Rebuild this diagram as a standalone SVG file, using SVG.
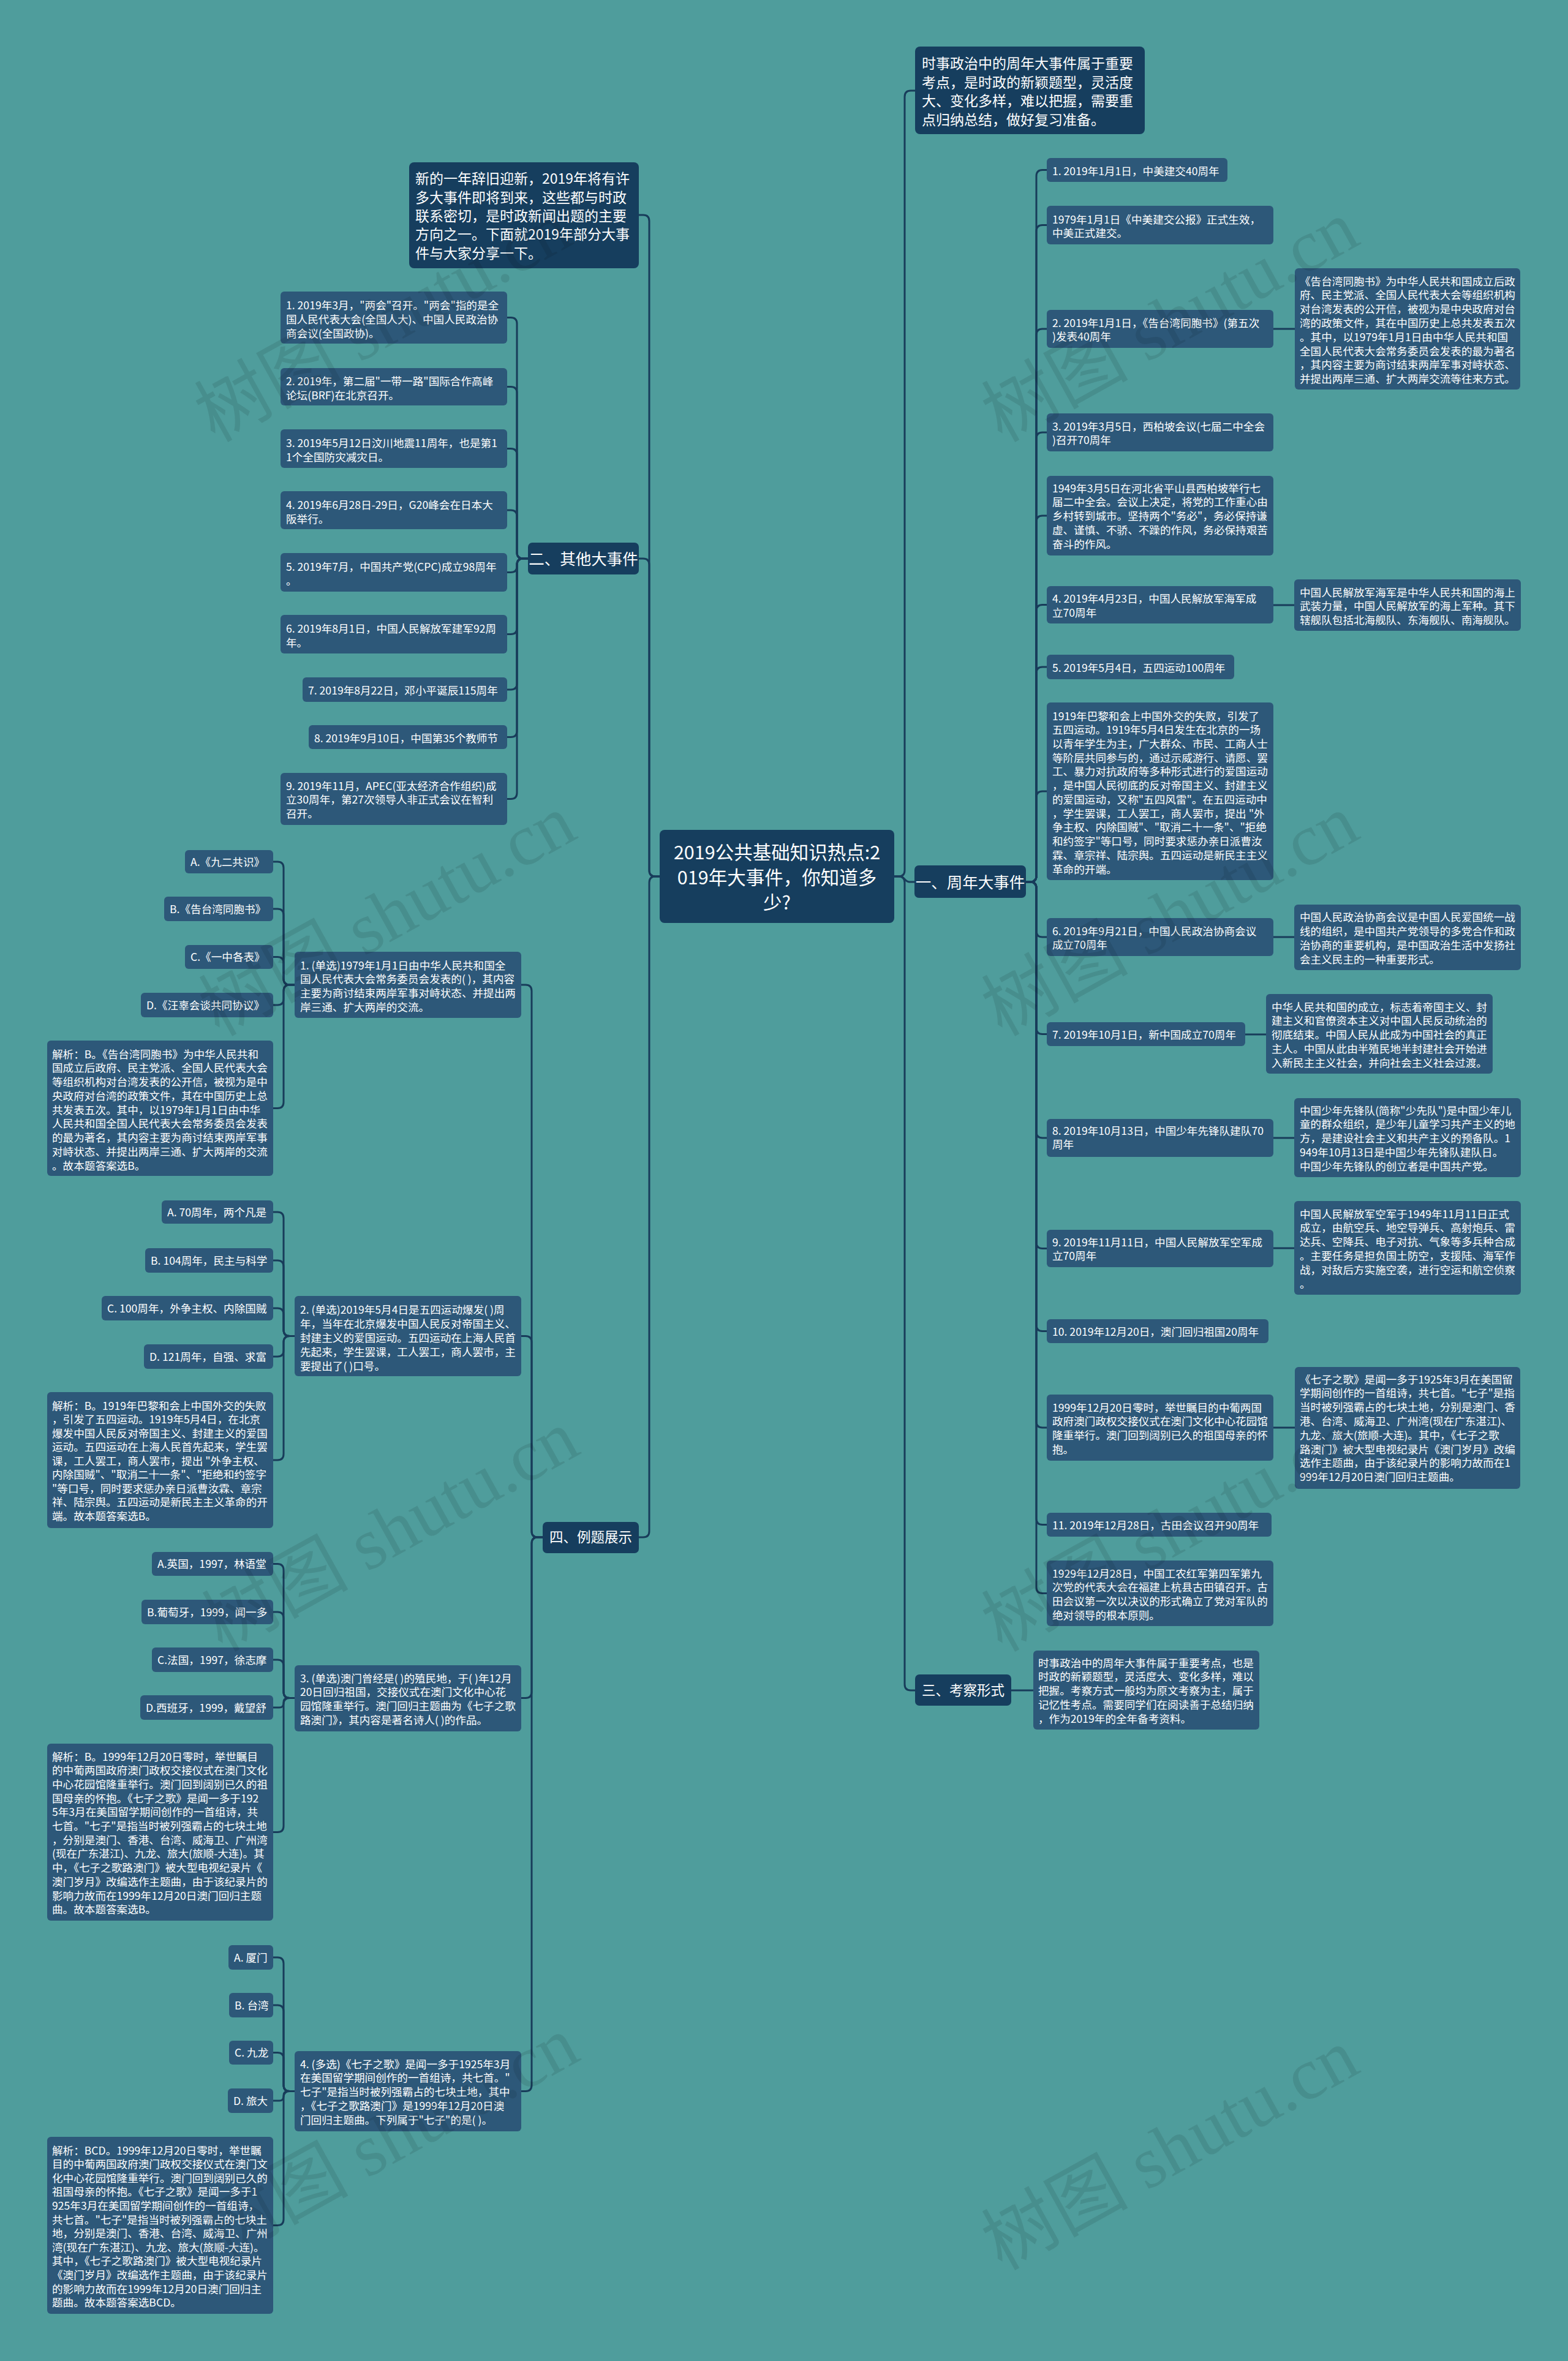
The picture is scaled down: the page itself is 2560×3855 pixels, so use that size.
<svg xmlns="http://www.w3.org/2000/svg" width="2560" height="3855" viewBox="0 0 2560 3855">
<style>
.d{fill:#163e5e}
.l{fill:#2d5879}
text{font-family:'Noto Sans CJK SC','Noto Sans',sans-serif;fill:#ffffff}
.s{font-size:17.6px}
.i{font-size:23px}
.h1{font-size:25.5px}
.h2{font-size:22.5px}
.r{font-size:30.5px}
.c path{fill:none;stroke:#183c5a;stroke-width:3}
.w{font-family:'Liberation Serif','Noto Sans CJK SC',serif;font-size:120px;fill:#000;fill-opacity:0.09}
</style>
<rect width="2560" height="3855" fill="#4f9d9c"/>
<g class="c" id="connectors">
<path d="M1460 1431 H1467 Q1477 1431 1477 1421 V158 Q1477 148 1487 148 H1494"/>
<path d="M1460 1431 H1469 C1477 1431 1477 1440 1485 1440 H1493"/>
<path d="M1460 1431 H1467 Q1477 1431 1477 1441 V2750 Q1477 2760 1487 2760 H1494"/>
<path d="M1077 1431 H1070 Q1060 1431 1060 1421 V361 Q1060 351 1050 351 H1043"/>
<path d="M1077 1431 H1070 Q1060 1431 1060 1421 V922 Q1060 912 1050 912 H1043"/>
<path d="M1077 1431 H1070 Q1060 1431 1060 1441 V2500 Q1060 2510 1050 2510 H1043"/>
<path d="M1675 1440 H1682 Q1692 1440 1692 1430 V287.5 Q1692 277.5 1702 277.5 H1709"/>
<path d="M1675 1440 H1682 Q1692 1440 1692 1430 V377.5 Q1692 367.5 1702 367.5 H1709"/>
<path d="M1675 1440 H1682 Q1692 1440 1692 1430 V547 Q1692 537 1702 537 H1709"/>
<path d="M1675 1440 H1682 Q1692 1440 1692 1430 V716 Q1692 706 1702 706 H1709"/>
<path d="M1675 1440 H1682 Q1692 1440 1692 1430 V852 Q1692 842 1702 842 H1709"/>
<path d="M1675 1440 H1682 Q1692 1440 1692 1430 V997.5 Q1692 987.5 1702 987.5 H1709"/>
<path d="M1675 1440 H1682 Q1692 1440 1692 1430 V1099 Q1692 1089 1702 1089 H1709"/>
<path d="M1675 1440 H1682 Q1692 1440 1692 1430 V1302 Q1692 1292 1702 1292 H1709"/>
<path d="M1675 1440 H1682 Q1692 1440 1692 1450 V1520 Q1692 1530 1702 1530 H1709"/>
<path d="M1675 1440 H1682 Q1692 1440 1692 1450 V1678.5 Q1692 1688.5 1702 1688.5 H1709"/>
<path d="M1675 1440 H1682 Q1692 1440 1692 1450 V1848 Q1692 1858 1702 1858 H1709"/>
<path d="M1675 1440 H1682 Q1692 1440 1692 1450 V2028.5 Q1692 2038.5 1702 2038.5 H1709"/>
<path d="M1675 1440 H1682 Q1692 1440 1692 1450 V2163.5 Q1692 2173.5 1702 2173.5 H1709"/>
<path d="M1675 1440 H1682 Q1692 1440 1692 1450 V2321 Q1692 2331 1702 2331 H1709"/>
<path d="M1675 1440 H1682 Q1692 1440 1692 1450 V2479.5 Q1692 2489.5 1702 2489.5 H1709"/>
<path d="M1675 1440 H1682 Q1692 1440 1692 1450 V2591.5 Q1692 2601.5 1702 2601.5 H1709"/>
<path d="M2079 537 H2114"/>
<path d="M2079 988 H2113"/>
<path d="M2079 1530 H2113"/>
<path d="M2033 1689 H2067"/>
<path d="M2079 1858 H2113"/>
<path d="M2079 2038 H2113"/>
<path d="M2079 2331 H2114"/>
<path d="M1651 2760 H1687"/>
<path d="M862 912 H854 Q844 912 844 902 V528.5 Q844 518.5 834 518.5 H828"/>
<path d="M862 912 H854 Q844 912 844 902 V641.5 Q844 631.5 834 631.5 H828"/>
<path d="M862 912 H854 Q844 912 844 902 V742.5 Q844 732.5 834 732.5 H828"/>
<path d="M862 912 H854 Q844 912 844 902 V843 Q844 833 834 833 H828"/>
<path d="M862 912 H854 Q844 912 844 922 V924.5 Q844 934.5 834 934.5 H828"/>
<path d="M862 912 H854 Q844 912 844 922 V1025.5 Q844 1035.5 834 1035.5 H828"/>
<path d="M862 912 H854 Q844 912 844 922 V1116 Q844 1126 834 1126 H828"/>
<path d="M862 912 H854 Q844 912 844 922 V1193.5 Q844 1203.5 834 1203.5 H828"/>
<path d="M862 912 H854 Q844 912 844 922 V1294.5 Q844 1304.5 834 1304.5 H828"/>
<path d="M886 2510 H878 Q868 2510 868 2500 V1618 Q868 1608 858 1608 H851"/>
<path d="M886 2510 H878 Q868 2510 868 2500 V2191.5 Q868 2181.5 858 2181.5 H851"/>
<path d="M886 2510 H878 Q868 2510 868 2520 V2762.5 Q868 2772.5 858 2772.5 H851"/>
<path d="M886 2510 H878 Q868 2510 868 2520 V3404.5 Q868 3414.5 858 3414.5 H851"/>
<path d="M481 1608 H473 Q463 1608 463 1598 V1417 Q463 1407 453 1407 H446"/>
<path d="M481 1608 H473 Q463 1608 463 1598 V1494 Q463 1484 453 1484 H446"/>
<path d="M481 1608 H473 Q463 1608 463 1598 V1572.5 Q463 1562.5 453 1562.5 H446"/>
<path d="M481 1608 H473 Q463 1608 463 1618 V1631 Q463 1641 453 1641 H446"/>
<path d="M481 1608 H473 Q463 1608 463 1618 V1799.5 Q463 1809.5 453 1809.5 H446"/>
<path d="M481 2181.5 H473 Q463 2181.5 463 2171.5 V1989 Q463 1979 453 1979 H446"/>
<path d="M481 2181.5 H473 Q463 2181.5 463 2171.5 V2068 Q463 2058 453 2058 H446"/>
<path d="M481 2181.5 H473 Q463 2181.5 463 2171.5 V2146 Q463 2136 453 2136 H446"/>
<path d="M481 2181.5 H473 Q463 2181.5 463 2191.5 V2205 Q463 2215 453 2215 H446"/>
<path d="M481 2181.5 H473 Q463 2181.5 463 2191.5 V2374 Q463 2384 453 2384 H446"/>
<path d="M481 2772.5 H473 Q463 2772.5 463 2762.5 V2563.5 Q463 2553.5 453 2553.5 H446"/>
<path d="M481 2772.5 H473 Q463 2772.5 463 2762.5 V2642 Q463 2632 453 2632 H446"/>
<path d="M481 2772.5 H473 Q463 2772.5 463 2762.5 V2720 Q463 2710 453 2710 H446"/>
<path d="M481 2772.5 H470 Q463 2772.5 463 2779.5 V2781 Q463 2788 456 2788 H446"/>
<path d="M481 2772.5 H473 Q463 2772.5 463 2782.5 V2981.5 Q463 2991.5 453 2991.5 H446"/>
<path d="M481 3414.5 H473 Q463 3414.5 463 3404.5 V3206 Q463 3196 453 3196 H446"/>
<path d="M481 3414.5 H473 Q463 3414.5 463 3404.5 V3284 Q463 3274 453 3274 H446"/>
<path d="M481 3414.5 H473 Q463 3414.5 463 3404.5 V3361.5 Q463 3351.5 453 3351.5 H446"/>
<path d="M481 3414.5 H470 Q463 3414.5 463 3421.5 V3423 Q463 3430 456 3430 H446"/>
<path d="M481 3414.5 H473 Q463 3414.5 463 3424.5 V3623.5 Q463 3633.5 453 3633.5 H446"/>
</g>

<g id="root"><rect class="d" x="1077" y="1355" width="383" height="152" rx="8"/>
<text class="r" text-anchor="middle"><tspan x="1268.5" y="1403">2019公共基础知识热点:2</tspan><tspan x="1268.5" y="1444">019年大事件，你知道多</tspan><tspan x="1268.5" y="1485">少?</tspan></text></g>

<g id="intro-right"><rect class="d" x="1494" y="76" width="375" height="143" rx="8"/>
<text class="i"><tspan x="1505" y="111.5">时事政治中的周年大事件属于重要</tspan><tspan x="1505" y="142.5">考点，是时政的新颖题型，灵活度</tspan><tspan x="1505" y="173">大、变化多样，难以把握，需要重</tspan><tspan x="1505" y="203.5">点归纳总结，做好复习准备。</tspan></text></g>

<g id="intro-left"><rect class="d" x="668" y="265" width="375" height="173" rx="8"/>
<text class="i"><tspan x="678" y="299.5">新的一年辞旧迎新，2019年将有许</tspan><tspan x="678" y="330.5">多大事件即将到来，这些都与时政</tspan><tspan x="678" y="360.5">联系密切，是时政新闻出题的主要</tspan><tspan x="678" y="390.5">方向之一。下面就2019年部分大事</tspan><tspan x="678" y="421.5">件与大家分享一下。</tspan></text></g>

<g id="b1"><rect class="d" x="1493" y="1413" width="182" height="53" rx="7"/><text class="h1" x="1584" y="1449.5" text-anchor="middle">一、周年大事件</text></g>
<g id="b2"><rect class="d" x="862" y="886" width="181" height="52" rx="7"/><text class="h1" x="952.5" y="921.5" text-anchor="middle">二、其他大事件</text></g>
<g id="b3"><rect class="d" x="1494" y="2734" width="157" height="51" rx="7"/><text class="h2" x="1572.5" y="2768" text-anchor="middle">三、考察形式</text></g>
<g id="b4"><rect class="d" x="886" y="2485" width="157" height="51" rx="7"/><text class="h2" x="964.5" y="2518" text-anchor="middle">四、例题展示</text></g>

<g id="n1"><rect class="l" x="1709" y="258" width="295" height="39" rx="6"/><text class="s" x="1718" y="285.5">1. 2019年1月1日，中美建交40周年</text></g>
<g id="n1a"><rect class="l" x="1709" y="336" width="370" height="63" rx="6"/><text class="s"><tspan x="1718" y="364.5">1979年1月1日《中美建交公报》正式生效，</tspan><tspan x="1718" dy="22.8">中美正式建交。</tspan></text></g>
<g id="n2"><rect class="l" x="1709" y="506" width="370" height="62" rx="6"/><text class="s"><tspan x="1718" y="533.5">2. 2019年1月1日，《告台湾同胞书》(第五次</tspan><tspan x="1718" dy="22.8">)发表40周年</tspan></text></g>
<g id="n2a"><rect class="l" x="2114" y="438" width="368" height="198" rx="6"/><text class="s"><tspan x="2122" y="465.5">《告台湾同胞书》为中华人民共和国成立后政</tspan><tspan x="2122" dy="22.8">府、民主党派、全国人民代表大会等组织机构</tspan><tspan x="2122" dy="22.8">对台湾发表的公开信，被视为是中央政府对台</tspan><tspan x="2122" dy="22.8">湾的政策文件，其在中国历史上总共发表五次</tspan><tspan x="2122" dy="22.8">。其中，以1979年1月1日由中华人民共和国</tspan><tspan x="2122" dy="22.8">全国人民代表大会常务委员会发表的最为著名</tspan><tspan x="2122" dy="22.8">，其内容主要为商讨结束两岸军事对峙状态、</tspan><tspan x="2122" dy="22.8">并提出两岸三通、扩大两岸交流等往来方式。</tspan></text></g>
<g id="n3"><rect class="l" x="1709" y="675" width="370" height="62" rx="6"/><text class="s"><tspan x="1718" y="702.5">3. 2019年3月5日，西柏坡会议(七届二中全会</tspan><tspan x="1718" dy="22.8">)召开70周年</tspan></text></g>
<g id="n3a"><rect class="l" x="1709" y="777" width="370" height="130" rx="6"/><text class="s"><tspan x="1718" y="803.5">1949年3月5日在河北省平山县西柏坡举行七</tspan><tspan x="1718" dy="22.8">届二中全会。会议上决定，将党的工作重心由</tspan><tspan x="1718" dy="22.8">乡村转到城市。坚持两个"务必"，务必保持谦</tspan><tspan x="1718" dy="22.8">虚、谨慎、不骄、不躁的作风，务必保持艰苦</tspan><tspan x="1718" dy="22.8">奋斗的作风。</tspan></text></g>
<g id="n4"><rect class="l" x="1709" y="957" width="370" height="61" rx="6"/><text class="s"><tspan x="1718" y="984">4. 2019年4月23日，中国人民解放军海军成</tspan><tspan x="1718" dy="22.8">立70周年</tspan></text></g>
<g id="n4a"><rect class="l" x="2113" y="946" width="370" height="84" rx="6"/><text class="s"><tspan x="2122" y="973.5">中国人民解放军海军是中华人民共和国的海上</tspan><tspan x="2122" dy="22.8">武装力量，中国人民解放军的海上军种。其下</tspan><tspan x="2122" dy="22.8">辖舰队包括北海舰队、东海舰队、南海舰队。</tspan></text></g>
<g id="n5"><rect class="l" x="1709" y="1069" width="306" height="40" rx="6"/><text class="s" x="1718" y="1096.5">5. 2019年5月4日，五四运动100周年</text></g>
<g id="n5a"><rect class="l" x="1709" y="1147" width="370" height="290" rx="6"/><text class="s"><tspan x="1718" y="1175.5">1919年巴黎和会上中国外交的失败，引发了</tspan><tspan x="1718" dy="22.73">五四运动。1919年5月4日发生在北京的一场</tspan><tspan x="1718" dy="22.73">以青年学生为主，广大群众、市民、工商人士</tspan><tspan x="1718" dy="22.73">等阶层共同参与的，通过示威游行、请愿、罢</tspan><tspan x="1718" dy="22.73">工、暴力对抗政府等多种形式进行的爱国运动</tspan><tspan x="1718" dy="22.73">，是中国人民彻底的反对帝国主义、封建主义</tspan><tspan x="1718" dy="22.73">的爱国运动，又称"五四风雷"。在五四运动中</tspan><tspan x="1718" dy="22.73">，学生罢课，工人罢工，商人罢市，提出 "外</tspan><tspan x="1718" dy="22.73">争主权、内除国贼"、"取消二十一条"、"拒绝</tspan><tspan x="1718" dy="22.73">和约签字"等口号，同时要求惩办亲日派曹汝</tspan><tspan x="1718" dy="22.73">霖、章宗祥、陆宗舆。五四运动是新民主主义</tspan><tspan x="1718" dy="22.73">革命的开端。</tspan></text></g>
<g id="n6"><rect class="l" x="1709" y="1499" width="370" height="62" rx="6"/><text class="s"><tspan x="1718" y="1526.5">6. 2019年9月21日，中国人民政治协商会议</tspan><tspan x="1718" dy="22.8">成立70周年</tspan></text></g>
<g id="n6a"><rect class="l" x="2113" y="1477" width="370" height="107" rx="6"/><text class="s"><tspan x="2122" y="1503.5">中国人民政治协商会议是中国人民爱国统一战</tspan><tspan x="2122" dy="23">线的组织，是中国共产党领导的多党合作和政</tspan><tspan x="2122" dy="23">治协商的重要机构，是中国政治生活中发扬社</tspan><tspan x="2122" dy="23">会主义民主的一种重要形式。</tspan></text></g>
<g id="n7"><rect class="l" x="1709" y="1669" width="324" height="39" rx="6"/><text class="s" x="1718" y="1695.5">7. 2019年10月1日，新中国成立70周年</text></g>
<g id="n7a"><rect class="l" x="2067" y="1623" width="370" height="130" rx="6"/><text class="s"><tspan x="2076" y="1650.5">中华人民共和国的成立，标志着帝国主义、封</tspan><tspan x="2076" dy="22.8">建主义和官僚资本主义对中国人民反动统治的</tspan><tspan x="2076" dy="22.8">彻底结束。中国人民从此成为中国社会的真正</tspan><tspan x="2076" dy="22.8">主人。中国从此由半殖民地半封建社会开始进</tspan><tspan x="2076" dy="22.8">入新民主主义社会，并向社会主义社会过渡。</tspan></text></g>
<g id="n8"><rect class="l" x="1709" y="1827" width="370" height="62" rx="6"/><text class="s"><tspan x="1718" y="1852.5">8. 2019年10月13日，中国少年先锋队建队70</tspan><tspan x="1718" dy="22.8">周年</tspan></text></g>
<g id="n8a"><rect class="l" x="2113" y="1793" width="370" height="129" rx="6"/><text class="s"><tspan x="2122" y="1819.5">中国少年先锋队(简称"少先队")是中国少年儿</tspan><tspan x="2122" dy="22.8">童的群众组织，是少年儿童学习共产主义的地</tspan><tspan x="2122" dy="22.8">方，是建设社会主义和共产主义的预备队。1</tspan><tspan x="2122" dy="22.8">949年10月13日是中国少年先锋队建队日。</tspan><tspan x="2122" dy="22.8">中国少年先锋队的创立者是中国共产党。</tspan></text></g>
<g id="n9"><rect class="l" x="1709" y="2008" width="370" height="61" rx="6"/><text class="s"><tspan x="1718" y="2034.5">9. 2019年11月11日，中国人民解放军空军成</tspan><tspan x="1718" dy="22.8">立70周年</tspan></text></g>
<g id="n9a"><rect class="l" x="2113" y="1961" width="370" height="153" rx="6"/><text class="s"><tspan x="2122" y="1988.5">中国人民解放军空军于1949年11月11日正式</tspan><tspan x="2122" dy="22.8">成立，由航空兵、地空导弹兵、高射炮兵、雷</tspan><tspan x="2122" dy="22.8">达兵、空降兵、电子对抗、气象等多兵种合成</tspan><tspan x="2122" dy="22.8">。主要任务是担负国土防空，支援陆、海军作</tspan><tspan x="2122" dy="22.8">战，对敌后方实施空袭，进行空运和航空侦察</tspan><tspan x="2122" dy="22.8">。</tspan></text></g>
<g id="n10"><rect class="l" x="1709" y="2154" width="362" height="39" rx="6"/><text class="s" x="1718" y="2180.5">10. 2019年12月20日，澳门回归祖国20周年</text></g>
<g id="n10a"><rect class="l" x="1709" y="2277" width="370" height="108" rx="6"/><text class="s"><tspan x="1718" y="2304.5">1999年12月20日零时，举世瞩目的中葡两国</tspan><tspan x="1718" dy="22.7">政府澳门政权交接仪式在澳门文化中心花园馆</tspan><tspan x="1718" dy="22.7">隆重举行。澳门回到阔别已久的祖国母亲的怀</tspan><tspan x="1718" dy="22.7">抱。</tspan></text></g>
<g id="n10b"><rect class="l" x="2114" y="2232" width="368" height="199" rx="6"/><text class="s"><tspan x="2122" y="2258.5">《七子之歌》是闻一多于1925年3月在美国留</tspan><tspan x="2122" dy="22.8">学期间创作的一首组诗，共七首。"七子"是指</tspan><tspan x="2122" dy="22.8">当时被列强霸占的七块土地，分别是澳门、香</tspan><tspan x="2122" dy="22.8">港、台湾、威海卫、广州湾(现在广东湛江)、</tspan><tspan x="2122" dy="22.8">九龙、旅大(旅顺-大连)。其中，《七子之歌</tspan><tspan x="2122" dy="22.8">路澳门》被大型电视纪录片《澳门岁月》改编</tspan><tspan x="2122" dy="22.8">选作主题曲，由于该纪录片的影响力故而在1</tspan><tspan x="2122" dy="22.8">999年12月20日澳门回归主题曲。</tspan></text></g>
<g id="n11"><rect class="l" x="1709" y="2470" width="367" height="39" rx="6"/><text class="s" x="1718" y="2496.5">11. 2019年12月28日，古田会议召开90周年</text></g>
<g id="n11a"><rect class="l" x="1709" y="2548" width="370" height="107" rx="6"/><text class="s"><tspan x="1718" y="2575.5">1929年12月28日，中国工农红军第四军第九</tspan><tspan x="1718" dy="22.7">次党的代表大会在福建上杭县古田镇召开。古</tspan><tspan x="1718" dy="22.7">田会议第一次以决议的形式确立了党对军队的</tspan><tspan x="1718" dy="22.7">绝对领导的根本原则。</tspan></text></g>
<g id="n3x"><rect class="l" x="1687" y="2695" width="369" height="129" rx="6"/><text class="s"><tspan x="1695" y="2721.5">时事政治中的周年大事件属于重要考点，也是</tspan><tspan x="1695" dy="22.8">时政的新颖题型，灵活度大、变化多样，难以</tspan><tspan x="1695" dy="22.8">把握。考察方式一般均为原文考察为主，属于</tspan><tspan x="1695" dy="22.8">记忆性考点。需要同学们在阅读善于总结归纳</tspan><tspan x="1695" dy="22.8">，作为2019年的全年备考资料。</tspan></text></g>

<g id="i1"><rect class="l" x="458" y="476" width="370" height="85" rx="6"/><text class="s"><tspan x="467" y="504.5">1. 2019年3月，"两会"召开。"两会"指的是全</tspan><tspan x="467" dy="23">国人民代表大会(全国人大)、中国人民政治协</tspan><tspan x="467" dy="23">商会议(全国政协)。</tspan></text></g>
<g id="i2"><rect class="l" x="458" y="601" width="370" height="61" rx="6"/><text class="s"><tspan x="467" y="628.5">2. 2019年，第二届"一带一路"国际合作高峰</tspan><tspan x="467" dy="23">论坛(BRF)在北京召开。</tspan></text></g>
<g id="i3"><rect class="l" x="458" y="701" width="370" height="63" rx="6"/><text class="s"><tspan x="467" y="729.5">3. 2019年5月12日汶川地震11周年，也是第1</tspan><tspan x="467" dy="23">1个全国防灾减灾日。</tspan></text></g>
<g id="i4"><rect class="l" x="458" y="802" width="370" height="62" rx="6"/><text class="s"><tspan x="467" y="830.5">4. 2019年6月28日-29日，G20峰会在日本大</tspan><tspan x="467" dy="23">阪举行。</tspan></text></g>
<g id="i5"><rect class="l" x="458" y="903" width="370" height="63" rx="6"/><text class="s"><tspan x="467" y="931.5">5. 2019年7月，中国共产党(CPC)成立98周年</tspan><tspan x="467" dy="23">。</tspan></text></g>
<g id="i6"><rect class="l" x="458" y="1004" width="370" height="63" rx="6"/><text class="s"><tspan x="467" y="1032.5">6. 2019年8月1日，中国人民解放军建军92周</tspan><tspan x="467" dy="23">年。</tspan></text></g>
<g id="i7"><rect class="l" x="494" y="1106" width="334" height="40" rx="6"/><text class="s" x="503" y="1133.5">7. 2019年8月22日，邓小平诞辰115周年</text></g>
<g id="i8"><rect class="l" x="504" y="1184" width="324" height="39" rx="6"/><text class="s" x="513" y="1211.5">8. 2019年9月10日，中国第35个教师节</text></g>
<g id="i9"><rect class="l" x="458" y="1262" width="370" height="85" rx="6"/><text class="s"><tspan x="467" y="1289.5">9. 2019年11月，APEC(亚太经济合作组织)成</tspan><tspan x="467" dy="22.8">立30周年，第27次领导人非正式会议在智利</tspan><tspan x="467" dy="22.8">召开。</tspan></text></g>

<g id="q1"><rect class="l" x="481" y="1554" width="370" height="108" rx="6"/><text class="s"><tspan x="490" y="1582.5">1. (单选)1979年1月1日由中华人民共和国全</tspan><tspan x="490" dy="22.7">国人民代表大会常务委员会发表的( )，其内容</tspan><tspan x="490" dy="22.7">主要为商讨结束两岸军事对峙状态、并提出两</tspan><tspan x="490" dy="22.7">岸三通、扩大两岸的交流。</tspan></text></g>
<g id="q1a"><rect class="l" x="302" y="1388" width="144" height="38" rx="6"/><text class="s" x="311" y="1413.5">A.《九二共识》</text></g>
<g id="q1b"><rect class="l" x="268" y="1464" width="178" height="40" rx="6"/><text class="s" x="277" y="1490.5">B.《告台湾同胞书》</text></g>
<g id="q1c"><rect class="l" x="302" y="1543" width="144" height="39" rx="6"/><text class="s" x="311" y="1569">C.《一中各表》</text></g>
<g id="q1d"><rect class="l" x="230" y="1621" width="216" height="40" rx="6"/><text class="s" x="239" y="1647.5">D.《汪辜会谈共同协议》</text></g>
<g id="q1e"><rect class="l" x="77" y="1699" width="369" height="221" rx="6"/><text class="s"><tspan x="85" y="1727.5">解析：B。《告台湾同胞书》为中华人民共和</tspan><tspan x="85" dy="22.75">国成立后政府、民主党派、全国人民代表大会</tspan><tspan x="85" dy="22.75">等组织机构对台湾发表的公开信，被视为是中</tspan><tspan x="85" dy="22.75">央政府对台湾的政策文件，其在中国历史上总</tspan><tspan x="85" dy="22.75">共发表五次。其中，以1979年1月1日由中华</tspan><tspan x="85" dy="22.75">人民共和国全国人民代表大会常务委员会发表</tspan><tspan x="85" dy="22.75">的最为著名，其内容主要为商讨结束两岸军事</tspan><tspan x="85" dy="22.75">对峙状态、并提出两岸三通、扩大两岸的交流</tspan><tspan x="85" dy="22.75">。故本题答案选B。</tspan></text></g>

<g id="q2"><rect class="l" x="481" y="2116" width="370" height="131" rx="6"/><text class="s"><tspan x="490" y="2144.5">2. (单选)2019年5月4日是五四运动爆发( )周</tspan><tspan x="490" dy="23">年，当年在北京爆发中国人民反对帝国主义、</tspan><tspan x="490" dy="23">封建主义的爱国运动。五四运动在上海人民首</tspan><tspan x="490" dy="23">先起来，学生罢课，工人罢工，商人罢市，主</tspan><tspan x="490" dy="23">要提出了( )口号。</tspan></text></g>
<g id="q2a"><rect class="l" x="264" y="1960" width="182" height="38" rx="6"/><text class="s" x="273" y="1985.5">A. 70周年，两个凡是</text></g>
<g id="q2b"><rect class="l" x="237" y="2038" width="209" height="40" rx="6"/><text class="s" x="246" y="2064.5">B. 104周年，民主与科学</text></g>
<g id="q2c"><rect class="l" x="166" y="2116" width="280" height="40" rx="6"/><text class="s" x="175" y="2142.5">C. 100周年，外争主权、内除国贼</text></g>
<g id="q2d"><rect class="l" x="235" y="2195" width="211" height="40" rx="6"/><text class="s" x="244" y="2221.5">D. 121周年，自强、求富</text></g>
<g id="q2e"><rect class="l" x="77" y="2273" width="369" height="222" rx="6"/><text class="s"><tspan x="85" y="2301.5">解析：B。1919年巴黎和会上中国外交的失败</tspan><tspan x="85" dy="22.5">，引发了五四运动。1919年5月4日，在北京</tspan><tspan x="85" dy="22.5">爆发中国人民反对帝国主义、封建主义的爱国</tspan><tspan x="85" dy="22.5">运动。五四运动在上海人民首先起来，学生罢</tspan><tspan x="85" dy="22.5">课，工人罢工，商人罢市，提出 "外争主权、</tspan><tspan x="85" dy="22.5">内除国贼"、"取消二十一条"、"拒绝和约签字</tspan><tspan x="85" dy="22.5">"等口号，同时要求惩办亲日派曹汝霖、章宗</tspan><tspan x="85" dy="22.5">祥、陆宗舆。五四运动是新民主主义革命的开</tspan><tspan x="85" dy="22.5">端。故本题答案选B。</tspan></text></g>

<g id="q3"><rect class="l" x="481" y="2719" width="370" height="108" rx="6"/><text class="s"><tspan x="490" y="2746.5">3. (单选)澳门曾经是( )的殖民地，于( )年12月</tspan><tspan x="490" dy="22.7">20日回归祖国，交接仪式在澳门文化中心花</tspan><tspan x="490" dy="22.7">园馆隆重举行。澳门回归主题曲为《七子之歌</tspan><tspan x="490" dy="22.7">路澳门》，其内容是著名诗人( )的作品。</tspan></text></g>
<g id="q3a"><rect class="l" x="248" y="2534" width="198" height="39" rx="6"/><text class="s" x="257" y="2560">A.英国，1997，林语堂</text></g>
<g id="q3b"><rect class="l" x="231" y="2612" width="215" height="40" rx="6"/><text class="s" x="240" y="2638.5">B.葡萄牙，1999，闻一多</text></g>
<g id="q3c"><rect class="l" x="248" y="2690" width="198" height="40" rx="6"/><text class="s" x="257" y="2716.5">C.法国，1997，徐志摩</text></g>
<g id="q3d"><rect class="l" x="229" y="2768" width="217" height="40" rx="6"/><text class="s" x="238" y="2794.5">D.西班牙，1999，戴望舒</text></g>
<g id="q3e"><rect class="l" x="77" y="2847" width="369" height="289" rx="6"/><text class="s"><tspan x="85" y="2874.5">解析：B。1999年12月20日零时，举世瞩目</tspan><tspan x="85" dy="22.7">的中葡两国政府澳门政权交接仪式在澳门文化</tspan><tspan x="85" dy="22.7">中心花园馆隆重举行。澳门回到阔别已久的祖</tspan><tspan x="85" dy="22.7">国母亲的怀抱。《七子之歌》是闻一多于192</tspan><tspan x="85" dy="22.7">5年3月在美国留学期间创作的一首组诗，共</tspan><tspan x="85" dy="22.7">七首。"七子"是指当时被列强霸占的七块土地</tspan><tspan x="85" dy="22.7">，分别是澳门、香港、台湾、威海卫、广州湾</tspan><tspan x="85" dy="22.7">(现在广东湛江)、九龙、旅大(旅顺-大连)。其</tspan><tspan x="85" dy="22.7">中，《七子之歌路澳门》被大型电视纪录片《</tspan><tspan x="85" dy="22.7">澳门岁月》改编选作主题曲，由于该纪录片的</tspan><tspan x="85" dy="22.7">影响力故而在1999年12月20日澳门回归主题</tspan><tspan x="85" dy="22.7">曲。故本题答案选B。</tspan></text></g>

<g id="q4"><rect class="l" x="481" y="3349" width="370" height="131" rx="6"/><text class="s"><tspan x="490" y="3376.5">4. (多选)《七子之歌》是闻一多于1925年3月</tspan><tspan x="490" dy="22.8">在美国留学期间创作的一首组诗，共七首。"</tspan><tspan x="490" dy="22.8">七子"是指当时被列强霸占的七块土地，其中</tspan><tspan x="490" dy="22.8">，《七子之歌路澳门》是1999年12月20日澳</tspan><tspan x="490" dy="22.8">门回归主题曲。下列属于"七子"的是( )。</tspan></text></g>
<g id="q4a"><rect class="l" x="373" y="3176" width="73" height="40" rx="6"/><text class="s" x="382" y="3202.5">A. 厦门</text></g>
<g id="q4b"><rect class="l" x="374" y="3254" width="72" height="40" rx="6"/><text class="s" x="383" y="3280.5">B. 台湾</text></g>
<g id="q4c"><rect class="l" x="374" y="3332" width="72" height="39" rx="6"/><text class="s" x="383" y="3358">C. 九龙</text></g>
<g id="q4d"><rect class="l" x="372" y="3410" width="74" height="40" rx="6"/><text class="s" x="381" y="3436.5">D. 旅大</text></g>
<g id="q4e"><rect class="l" x="77" y="3489" width="369" height="289" rx="6"/><text class="s"><tspan x="85" y="3517.5">解析：BCD。1999年12月20日零时，举世瞩</tspan><tspan x="85" dy="22.6">目的中葡两国政府澳门政权交接仪式在澳门文</tspan><tspan x="85" dy="22.6">化中心花园馆隆重举行。澳门回到阔别已久的</tspan><tspan x="85" dy="22.6">祖国母亲的怀抱。《七子之歌》是闻一多于1</tspan><tspan x="85" dy="22.6">925年3月在美国留学期间创作的一首组诗，</tspan><tspan x="85" dy="22.6">共七首。"七子"是指当时被列强霸占的七块土</tspan><tspan x="85" dy="22.6">地，分别是澳门、香港、台湾、威海卫、广州</tspan><tspan x="85" dy="22.6">湾(现在广东湛江)、九龙、旅大(旅顺-大连)。</tspan><tspan x="85" dy="22.6">其中，《七子之歌路澳门》被大型电视纪录片</tspan><tspan x="85" dy="22.6">《澳门岁月》改编选作主题曲，由于该纪录片</tspan><tspan x="85" dy="22.6">的影响力故而在1999年12月20日澳门回归主</tspan><tspan x="85" dy="22.6">题曲。故本题答案选BCD。</tspan></text></g>

<g id="watermarks">
<text class="w" text-anchor="middle" transform="translate(645 560) rotate(-29)">树图 shutu.cn</text>
<text class="w" text-anchor="middle" transform="translate(1930 560) rotate(-29)">树图 shutu.cn</text>
<text class="w" text-anchor="middle" transform="translate(652 1530) rotate(-29)">树图 shutu.cn</text>
<text class="w" text-anchor="middle" transform="translate(1930 1530) rotate(-29)">树图 shutu.cn</text>
<text class="w" text-anchor="middle" transform="translate(657 2535) rotate(-29)">树图 shutu.cn</text>
<text class="w" text-anchor="middle" transform="translate(1930 2535) rotate(-29)">树图 shutu.cn</text>
<text class="w" text-anchor="middle" transform="translate(657 3525) rotate(-29)">树图 shutu.cn</text>
<text class="w" text-anchor="middle" transform="translate(1930 3545) rotate(-29)">树图 shutu.cn</text>
</g>
</svg>
